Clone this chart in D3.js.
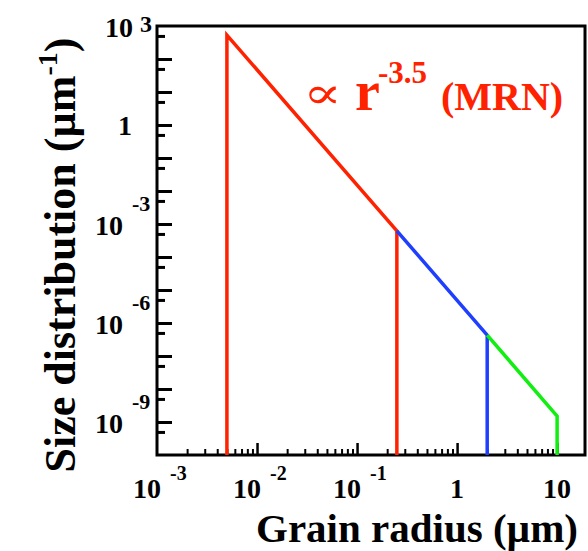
<!DOCTYPE html>
<html>
<head>
<meta charset="utf-8">
<script src="https://cdn.jsdelivr.net/npm/d3@7"></script>
<style>
  html, body { margin: 0; padding: 0; background: #fff; }
  svg { display: block; }
  text { font-family: "Liberation Serif", "Times New Roman", serif; font-weight: bold; }
</style>
</head>
<body>
<svg id="chart" width="588" height="551"></svg>
<script>
// ---- data ----
const radiusBreaks = [0.005, 0.25, 2, 10];          // µm
const sizeDist     = [530, 6.2e-4, 4.3e-7, 1.5e-9]; // µm^-1
const segColors    = ["#ff2200", "#1f3fff", "#11ee11"];

const xLabelValues = [1e-3, 1e-2, 1e-1, 1, 10];
const xLabelBase   = ["10", "10", "10", "1", "10"];
const xLabelExp    = ["-3", "-2", "-1", "", ""];

const yLabelValues = [1e3, 1, 1e-3, 1e-6, 1e-9];
const yLabelBase   = ["10", "1", "10", "10", "10"];
const yLabelExp    = ["3", "", "-3", "-6", "-9"];

const xMajorTicks = [1e-2, 1e-1, 1, 10];
const xMinorTicks = [-3, -2, -1, 0].flatMap(k => [2,3,4,5,6,7,8,9].map(m => m * Math.pow(10, k)));
const yMajorTicks = d3.range(-9, 3).map(k => Math.pow(10, k));
const yMinorTicks = d3.range(-10, 3).map(k => 5 * Math.pow(10, k));

// ---- layout ----
const svg = d3.select("#chart");
const L = 157, R = 585, T = 26, B = 455;
const x = d3.scaleLog().domain([1e-3, 19]).range([L, R]);
const y = d3.scaleLog().domain([1e-10, 1e3]).range([B, T]);

// ticks (inward)
function styleAxis(g, w) {
  g.select(".domain").remove();
  g.selectAll(".tick line").attr("stroke", "#000").attr("stroke-width", w);
  g.selectAll(".tick text").remove();
}
svg.append("g").attr("transform", `translate(0,${B})`)
  .call(d3.axisBottom(x).tickValues(xMinorTicks).tickSize(-6).tickFormat(""))
  .call(g => styleAxis(g, 2));
svg.append("g").attr("transform", `translate(0,${B})`)
  .call(d3.axisBottom(x).tickValues(xMajorTicks).tickSize(-12).tickFormat(""))
  .call(g => styleAxis(g, 2.5));
svg.append("g").attr("transform", `translate(${L},0)`)
  .call(d3.axisLeft(y).tickValues(yMinorTicks).tickSize(-8).tickFormat(""))
  .call(g => styleAxis(g, 3));
svg.append("g").attr("transform", `translate(${L},0)`)
  .call(d3.axisLeft(y).tickValues(yMajorTicks).tickSize(-15).tickFormat(""))
  .call(g => styleAxis(g, 3));

// frame
svg.append("rect").attr("x", L).attr("y", T).attr("width", R - L).attr("height", B - T)
  .attr("fill", "none").attr("stroke", "#000").attr("stroke-width", 3);

// data lines
const ymin = y.domain()[0];
const line = d3.line().x(d => x(d[0])).y(d => y(d[1]));
segColors.forEach((c, i) => {
  const pts = [];
  if (i === 0) pts.push([radiusBreaks[0], ymin]);
  pts.push([radiusBreaks[i], sizeDist[i]]);
  pts.push([radiusBreaks[i + 1], sizeDist[i + 1]]);
  pts.push([radiusBreaks[i + 1], ymin]);
  svg.append("path").attr("d", line(pts)).attr("fill", "none")
    .attr("stroke", c).attr("stroke-width", 3.5).attr("stroke-linejoin", "miter");
});

// x tick labels
xLabelValues.forEach((v, i) => {
  const px = x(v);
  if (xLabelExp[i]) {
    svg.append("text").attr("x", px + 4).attr("y", 498).attr("text-anchor", "end")
      .attr("font-size", 28).text(xLabelBase[i]);
    svg.append("text").attr("x", px + 13).attr("y", 480).attr("font-size", 20).text(xLabelExp[i]);
  } else {
    svg.append("text").attr("x", px).attr("y", 498).attr("text-anchor", "middle")
      .attr("font-size", 28).text(xLabelBase[i]);
  }
});

// y tick labels
yLabelValues.forEach((v, i) => {
  const py = y(v);
  if (yLabelExp[i]) {
    const top = v >= 1e3;
    svg.append("text").attr("x", top ? 133 : 123).attr("y", py + 11).attr("text-anchor", "end")
      .attr("font-size", 28).text(yLabelBase[i]);
    svg.append("text").attr("x", top ? 140 : 132).attr("y", top ? py + 6 : py - 13)
      .attr("font-size", top ? 24 : 22).text(yLabelExp[i]);
  } else {
    svg.append("text").attr("x", 125).attr("y", py + 10).attr("text-anchor", "middle")
      .attr("font-size", 28).text(yLabelBase[i]);
  }
});

// axis titles
svg.append("text").attr("x", 417).attr("y", 542).attr("text-anchor", "middle")
  .attr("font-size", 41).text("Grain radius (µm)");

const yt = svg.append("text").attr("transform", "translate(75,255) rotate(-90)")
  .attr("text-anchor", "middle").attr("font-size", 44);
yt.append("tspan").text("Size distribution (µm");
yt.append("tspan").attr("font-size", 28).attr("dy", -18).text("-1");
yt.append("tspan").attr("dy", 18).text(")");

// annotation
const red = "#ff2200";
svg.append("text").attr("transform", "translate(303,108) scale(1.25,0.95)").attr("font-size", 46)
  .attr("fill", red).style("font-family", "'DejaVu Serif', serif").style("font-weight", "normal").text("∝");
svg.append("text").attr("x", 355).attr("y", 110).attr("font-size", 56).attr("fill", red).text("r");
svg.append("text").attr("x", 378).attr("y", 83).attr("font-size", 31).attr("fill", red).text("-3.5");
svg.append("text").attr("x", 441).attr("y", 110).attr("font-size", 40).attr("fill", red).text("(MRN)");
</script>
</body>
</html>
